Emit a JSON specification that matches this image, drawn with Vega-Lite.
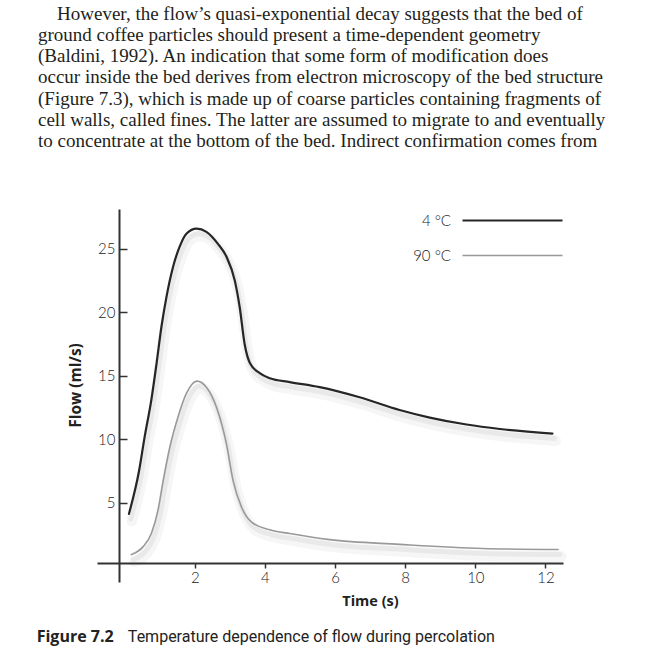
{
  "$schema": "https://vega.github.io/schema/vega-lite/v6.json",
  "width": 466,
  "height": 373,
  "autosize": {"type": "none"},
  "padding": {"left": 97, "top": 209, "right": 87, "bottom": 80},
  "background": "white",
  "config": {"view": {"stroke": null}, "axis": {"grid": false}},
  "title": {
    "text": [
      "\u200b\u00a0\u00a0\u00a0\u00a0However, the flow’s quasi-exponential decay suggests that the bed of",
      "ground coffee particles should present a time-dependent geometry",
      "(Baldini, 1992). An indication that some form of modification does",
      "occur inside the bed derives from electron microscopy of the bed structure",
      "(Figure 7.3), which is made up of coarse particles containing fragments of",
      "cell walls, called fines. The latter are assumed to migrate to and eventually",
      "to concentrate at the bottom of the bed. Indirect confirmation comes from"
    ],
    "anchor": "start",
    "frame": "group",
    "dx": -59,
    "offset": 58,
    "font": "Liberation Serif",
    "fontSize": 19,
    "fontWeight": "normal",
    "lineHeight": 21.2,
    "color": "#231f20"
  },
  "datasets": {
    "flow": [
      {"series": "4 °C", "time": 0.12, "flow": 4.1},
      {"series": "4 °C", "time": 0.41, "flow": 7.5},
      {"series": "4 °C", "time": 0.57, "flow": 10.2},
      {"series": "4 °C", "time": 0.76, "flow": 13.1},
      {"series": "4 °C", "time": 0.91, "flow": 16.0},
      {"series": "4 °C", "time": 1.05, "flow": 18.9},
      {"series": "4 °C", "time": 1.19, "flow": 21.2},
      {"series": "4 °C", "time": 1.38, "flow": 23.6},
      {"series": "4 °C", "time": 1.57, "flow": 25.2},
      {"series": "4 °C", "time": 1.76, "flow": 26.2},
      {"series": "4 °C", "time": 2.05, "flow": 26.6},
      {"series": "4 °C", "time": 2.33, "flow": 26.35},
      {"series": "4 °C", "time": 2.66, "flow": 25.4},
      {"series": "4 °C", "time": 2.9, "flow": 24.4},
      {"series": "4 °C", "time": 3.14, "flow": 22.5},
      {"series": "4 °C", "time": 3.28, "flow": 20.4},
      {"series": "4 °C", "time": 3.42, "flow": 17.5},
      {"series": "4 °C", "time": 3.57, "flow": 16.0},
      {"series": "4 °C", "time": 3.85, "flow": 15.2},
      {"series": "4 °C", "time": 4.14, "flow": 14.8},
      {"series": "4 °C", "time": 4.71, "flow": 14.5},
      {"series": "4 °C", "time": 5.56, "flow": 14.1},
      {"series": "4 °C", "time": 6.7, "flow": 13.3},
      {"series": "4 °C", "time": 7.84, "flow": 12.3},
      {"series": "4 °C", "time": 8.7, "flow": 11.7},
      {"series": "4 °C", "time": 9.75, "flow": 11.15},
      {"series": "4 °C", "time": 10.7, "flow": 10.8},
      {"series": "4 °C", "time": 12.2, "flow": 10.44},
      {"series": "90 °C", "time": 0.19, "flow": 0.89},
      {"series": "90 °C", "time": 0.52, "flow": 1.5},
      {"series": "90 °C", "time": 0.76, "flow": 2.55},
      {"series": "90 °C", "time": 0.95, "flow": 4.4},
      {"series": "90 °C", "time": 1.1, "flow": 6.75},
      {"series": "90 °C", "time": 1.29, "flow": 9.4},
      {"series": "90 °C", "time": 1.52, "flow": 11.75},
      {"series": "90 °C", "time": 1.76, "flow": 13.6},
      {"series": "90 °C", "time": 2.06, "flow": 14.57},
      {"series": "90 °C", "time": 2.33, "flow": 14.1},
      {"series": "90 °C", "time": 2.62, "flow": 12.5},
      {"series": "90 °C", "time": 2.9, "flow": 9.65},
      {"series": "90 °C", "time": 3.09, "flow": 6.75},
      {"series": "90 °C", "time": 3.33, "flow": 4.65},
      {"series": "90 °C", "time": 3.62, "flow": 3.45},
      {"series": "90 °C", "time": 4.14, "flow": 2.85},
      {"series": "90 °C", "time": 4.71, "flow": 2.55},
      {"series": "90 °C", "time": 5.85, "flow": 2.07},
      {"series": "90 °C", "time": 7.84, "flow": 1.7},
      {"series": "90 °C", "time": 10.2, "flow": 1.37},
      {"series": "90 °C", "time": 12.36, "flow": 1.29}
    ]
  },
  "layer": [
    {
      "data": {"name": "flow"},
      "mark": {"type": "line", "interpolate": "monotone", "strokeCap": "round", "color": "#000", "opacity": 0.035, "strokeWidth": 11, "xOffset": 3, "yOffset": 7},
      "encoding": {
        "x": {"field": "time", "type": "quantitative"},
        "y": {"field": "flow", "type": "quantitative"},
        "detail": {"field": "series"}
      }
    },
    {
      "data": {"name": "flow"},
      "mark": {"type": "line", "interpolate": "monotone", "strokeCap": "round", "color": "#000", "opacity": 0.05, "strokeWidth": 5, "xOffset": 2, "yOffset": 5},
      "encoding": {
        "x": {"field": "time", "type": "quantitative"},
        "y": {"field": "flow", "type": "quantitative"},
        "detail": {"field": "series"}
      }
    },
    {
      "data": {"name": "flow"},
      "mark": {"type": "line", "interpolate": "monotone", "strokeCap": "round", "strokeJoin": "round"},
      "encoding": {
        "x": {
          "field": "time",
          "type": "quantitative",
          "scale": {"domain": [-0.79, 12.5], "nice": false, "zero": false},
          "axis": {
            "values": [2, 4, 6, 8, 10, 12],
            "offset": -19,
            "domainColor": "#333",
            "domainWidth": 2,
            "tickColor": "#333",
            "tickWidth": 1.5,
            "tickSize": 5,
            "labelPadding": 2,
            "labelFlush": false,
            "labelOverlap": false,
            "labelFont": "Lato",
            "labelFontSize": 15,
            "labelFontWeight": 300,
            "labelColor": "#222",
            "title": "Time (s)",
            "titleFont": "Open Sans",
            "titleFontSize": 14.5,
            "titleFontWeight": "bold",
            "titleColor": "#222",
            "titleX": 273,
            "titleY": 38,
            "titleBaseline": "middle",
            "titleAlign": "center"
          }
        },
        "y": {
          "field": "flow",
          "type": "quantitative",
          "scale": {"domain": [-1.27, 28.15], "nice": false, "zero": false},
          "axis": {
            "values": [5, 10, 15, 20, 25],
            "offset": -22,
            "domainColor": "#333",
            "domainWidth": 2,
            "tickColor": "#333",
            "tickWidth": 1.5,
            "tickSize": -8,
            "labelPadding": 12,
            "labelOverlap": false,
            "labelFont": "Lato",
            "labelFontSize": 15,
            "labelFontWeight": 300,
            "labelColor": "#222",
            "title": "Flow (ml/s)",
            "titleFont": "Open Sans",
            "titleFontSize": 15.5,
            "titleFontWeight": "bold",
            "titleColor": "#222",
            "titleX": -44,
            "titleY": 176,
            "titleBaseline": "middle",
            "titleAlign": "center",
            "titleAngle": -90
          }
        },
        "color": {
          "field": "series",
          "type": "nominal",
          "scale": {"domain": ["4 °C", "90 °C"], "range": ["#262626", "#999999"]},
          "legend": {
            "title": null,
            "orient": "none",
            "legendX": 408,
            "legendY": 4,
            "padding": 0,
            "symbolType": "M-50,0H50",
            "symbolSize": 4,
            "symbolStrokeWidth": 2,
            "rowPadding": 19,
            "labelAlign": "right",
            "labelOffset": -69,
            "labelFont": "Lato",
            "labelFontSize": 15,
            "labelFontWeight": 300,
            "labelColor": "#222"
          }
        },
        "strokeWidth": {
          "field": "series",
          "type": "ordinal",
          "scale": {"domain": ["4 °C", "90 °C"], "range": [2.2, 1.6]},
          "legend": null
        }
      }
    },
    {
      "data": {"values": [{"caption": "Figure 7.2"}]},
      "mark": {"type": "text", "align": "left", "baseline": "middle", "font": "Open Sans", "fontSize": 16, "fontWeight": "bold", "color": "#222"},
      "encoding": {
        "x": {"datum": -2.51},
        "y": {"datum": -5.64},
        "text": {"field": "caption"}
      }
    },
    {
      "data": {"values": [{"caption": "Temperature dependence of flow during percolation"}]},
      "mark": {"type": "text", "align": "left", "baseline": "middle", "font": "Roboto", "fontSize": 16, "color": "#222"},
      "encoding": {
        "x": {"datum": 0.09},
        "y": {"datum": -5.64},
        "text": {"field": "caption"}
      }
    }
  ]
}
